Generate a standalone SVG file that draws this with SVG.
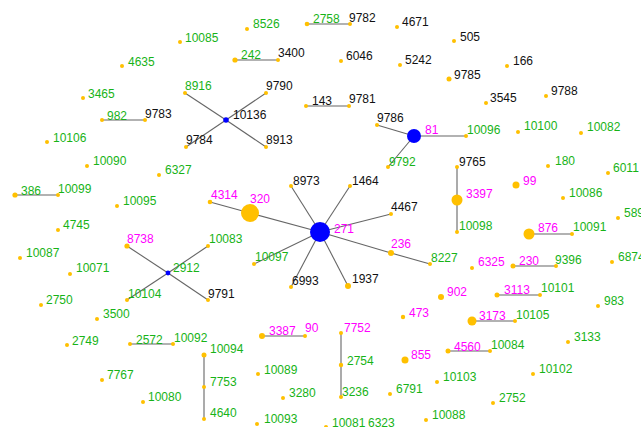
<svg xmlns="http://www.w3.org/2000/svg" width="641" height="427" viewBox="0 0 641 427">
<style>
text{font-family:"Liberation Sans",Arial,sans-serif;font-size:12px}
.g{fill:#17b317}.m{fill:#ff00ff}.k{fill:#111}
.d{fill:#ffc000}.h{fill:#0000ff}
.e line{stroke:#666;stroke-width:1.1}
</style>
<rect width="641" height="427" fill="#fff"/>
<g class="e" id="edges">
<line x1="102" y1="120" x2="145" y2="120"/>
<line x1="307" y1="24" x2="350" y2="24"/>
<line x1="235" y1="60" x2="278" y2="60"/>
<line x1="306" y1="106" x2="349" y2="106"/>
<line x1="226" y1="120" x2="185" y2="93"/>
<line x1="226" y1="120" x2="266" y2="93"/>
<line x1="226" y1="120" x2="186" y2="147"/>
<line x1="226" y1="120" x2="266" y2="147"/>
<line x1="414" y1="136" x2="377" y2="125"/>
<line x1="414" y1="136" x2="466" y2="136"/>
<line x1="414" y1="136" x2="388" y2="167"/>
<line x1="15" y1="195" x2="58" y2="195"/>
<line x1="320" y1="232" x2="291" y2="186"/>
<line x1="320" y1="232" x2="350" y2="186"/>
<line x1="320" y1="232" x2="391" y2="214"/>
<line x1="320" y1="232" x2="250" y2="213"/>
<line x1="250" y1="213" x2="210" y2="202"/>
<line x1="320" y1="232" x2="254" y2="264"/>
<line x1="320" y1="232" x2="291" y2="287"/>
<line x1="320" y1="232" x2="348" y2="286"/>
<line x1="320" y1="232" x2="391" y2="253"/>
<line x1="391" y1="253" x2="430" y2="264"/>
<line x1="457" y1="167" x2="457" y2="232"/>
<line x1="529" y1="234" x2="572" y2="234"/>
<line x1="513" y1="266" x2="556" y2="266"/>
<line x1="168" y1="273" x2="127" y2="246"/>
<line x1="168" y1="273" x2="208" y2="246"/>
<line x1="168" y1="273" x2="127" y2="300"/>
<line x1="168" y1="273" x2="208" y2="300"/>
<line x1="130" y1="344" x2="173" y2="344"/>
<line x1="204" y1="355" x2="204" y2="419"/>
<line x1="262" y1="336" x2="305" y2="336"/>
<line x1="341" y1="333" x2="341" y2="397"/>
<line x1="497" y1="295" x2="540" y2="295"/>
<line x1="472" y1="321" x2="515" y2="321"/>
<line x1="448" y1="351" x2="490" y2="351"/>
</g>
<g id="n10085"><circle class="d" cx="180" cy="42" r="2"/><text class="g" x="185" y="42">10085</text></g>
<g id="n4635"><circle class="d" cx="122" cy="66" r="2"/><text class="g" x="128" y="66">4635</text></g>
<g id="n3465"><circle class="d" cx="83" cy="98" r="2"/><text class="g" x="88" y="98">3465</text></g>
<g id="n982"><circle class="d" cx="102" cy="120" r="2"/><text class="g" x="107" y="120">982</text></g>
<g id="n9783"><circle class="d" cx="145" cy="120" r="2"/><text class="k" x="145" y="118">9783</text></g>
<g id="n10106"><circle class="d" cx="47" cy="142" r="2"/><text class="g" x="53" y="142">10106</text></g>
<g id="n8916"><circle class="d" cx="185" cy="93" r="2"/><text class="g" x="185" y="90">8916</text></g>
<g id="n8526"><circle class="d" cx="247" cy="29" r="2"/><text class="g" x="253" y="28">8526</text></g>
<g id="n2758"><circle class="d" cx="307" cy="24" r="2.3"/><text class="g" x="313" y="23">2758</text></g>
<g id="n9782"><circle class="d" cx="350" cy="24" r="2"/><text class="k" x="349" y="22">9782</text></g>
<g id="n4671"><circle class="d" cx="397" cy="27" r="2"/><text class="k" x="402" y="26">4671</text></g>
<g id="n242"><circle class="d" cx="235" cy="60" r="2.6"/><text class="g" x="241" y="59">242</text></g>
<g id="n3400"><circle class="d" cx="278" cy="60" r="2"/><text class="k" x="278" y="57">3400</text></g>
<g id="n6046"><circle class="d" cx="341" cy="61" r="2"/><text class="k" x="346" y="60">6046</text></g>
<g id="n5242"><circle class="d" cx="400" cy="65" r="2"/><text class="k" x="405" y="64">5242</text></g>
<g id="n505"><circle class="d" cx="454" cy="41" r="2"/><text class="k" x="460" y="41">505</text></g>
<g id="n166"><circle class="d" cx="507" cy="66" r="2"/><text class="k" x="513" y="65">166</text></g>
<g id="n9785"><circle class="d" cx="449" cy="79" r="2.5"/><text class="k" x="454" y="79">9785</text></g>
<g id="n3545"><circle class="d" cx="486" cy="103" r="2"/><text class="k" x="490" y="102">3545</text></g>
<g id="n9788"><circle class="d" cx="546" cy="96" r="2"/><text class="k" x="551" y="95">9788</text></g>
<g id="n9790"><circle class="d" cx="266" cy="93" r="2"/><text class="k" x="266" y="90">9790</text></g>
<g id="n10136"><circle class="h" cx="226" cy="120" r="2.8"/><text class="k" x="233" y="119">10136</text></g>
<g id="n9784"><circle class="d" cx="186" cy="147" r="2"/><text class="k" x="186" y="144">9784</text></g>
<g id="n8913"><circle class="d" cx="266" cy="147" r="2"/><text class="k" x="266" y="144">8913</text></g>
<g id="n143"><circle class="d" cx="306" cy="106" r="2"/><text class="k" x="312" y="105">143</text></g>
<g id="n9781"><circle class="d" cx="349" cy="106" r="2"/><text class="k" x="349" y="103">9781</text></g>
<g id="n9786"><circle class="d" cx="377" cy="125" r="2"/><text class="k" x="377" y="122">9786</text></g>
<g id="n81"><circle class="h" cx="414" cy="136" r="7"/><text class="m" x="425" y="134">81</text></g>
<g id="n10096"><circle class="d" cx="466" cy="136" r="2"/><text class="g" x="467" y="134">10096</text></g>
<g id="n10100"><circle class="d" cx="518" cy="132" r="2"/><text class="g" x="524" y="130">10100</text></g>
<g id="n10082"><circle class="d" cx="581" cy="133" r="2"/><text class="g" x="587" y="131">10082</text></g>
<g id="n9792"><circle class="d" cx="388" cy="167" r="2"/><text class="g" x="389" y="166">9792</text></g>
<g id="n10090"><circle class="d" cx="87" cy="166" r="2"/><text class="g" x="93" y="165">10090</text></g>
<g id="n6327"><circle class="d" cx="159" cy="175" r="2"/><text class="g" x="165" y="174">6327</text></g>
<g id="n386"><circle class="d" cx="15" cy="195" r="2.6"/><text class="g" x="21" y="195">386</text></g>
<g id="n10099"><circle class="d" cx="58" cy="195" r="2"/><text class="g" x="58" y="193">10099</text></g>
<g id="n10095"><circle class="d" cx="117" cy="206" r="2"/><text class="g" x="123" y="205">10095</text></g>
<g id="n4745"><circle class="d" cx="58" cy="230" r="2"/><text class="g" x="63" y="229">4745</text></g>
<g id="n10087"><circle class="d" cx="20" cy="258" r="2"/><text class="g" x="26" y="257">10087</text></g>
<g id="n10071"><circle class="d" cx="70" cy="274" r="2"/><text class="g" x="76" y="272">10071</text></g>
<g id="n8738"><circle class="d" cx="127" cy="246" r="2.6"/><text class="m" x="127" y="243">8738</text></g>
<g id="n10083"><circle class="d" cx="208" cy="246" r="2"/><text class="g" x="209" y="243">10083</text></g>
<g id="n2912"><circle class="h" cx="168" cy="273" r="2.4"/><text class="g" x="173" y="272">2912</text></g>
<g id="n10104"><circle class="d" cx="127" cy="300" r="2"/><text class="g" x="128" y="298">10104</text></g>
<g id="n9791"><circle class="d" cx="208" cy="300" r="2"/><text class="k" x="208" y="298">9791</text></g>
<g id="n4314"><circle class="d" cx="210" cy="202" r="2.3"/><text class="m" x="211" y="199">4314</text></g>
<g id="n320"><circle class="d" cx="250" cy="213" r="9"/><text class="m" x="250" y="203">320</text></g>
<g id="n8973"><circle class="d" cx="291" cy="186" r="2"/><text class="k" x="293" y="185">8973</text></g>
<g id="n1464"><circle class="d" cx="350" cy="186" r="2"/><text class="k" x="352" y="185">1464</text></g>
<g id="n4467"><circle class="d" cx="391" cy="214" r="2"/><text class="k" x="391" y="211">4467</text></g>
<g id="n271"><circle class="h" cx="320" cy="232" r="10"/><text class="m" x="334" y="233">271</text></g>
<g id="n10097"><circle class="d" cx="254" cy="264" r="2"/><text class="g" x="255" y="261">10097</text></g>
<g id="n6993"><circle class="d" cx="291" cy="287" r="2"/><text class="k" x="292" y="285">6993</text></g>
<g id="n1937"><circle class="d" cx="348" cy="286" r="3"/><text class="k" x="352" y="283">1937</text></g>
<g id="n236"><circle class="d" cx="391" cy="253" r="3"/><text class="m" x="391" y="248">236</text></g>
<g id="n8227"><circle class="d" cx="430" cy="264" r="2"/><text class="g" x="431" y="262">8227</text></g>
<g id="n9765"><circle class="d" cx="457" cy="167" r="2"/><text class="k" x="459" y="166">9765</text></g>
<g id="n3397"><circle class="d" cx="457" cy="200" r="5.5"/><text class="m" x="466" y="198">3397</text></g>
<g id="n10098"><circle class="d" cx="457" cy="232" r="2"/><text class="g" x="459" y="230">10098</text></g>
<g id="n180"><circle class="d" cx="548" cy="166" r="2"/><text class="g" x="555" y="165">180</text></g>
<g id="n99"><circle class="d" cx="516" cy="185" r="3.5"/><text class="m" x="523" y="185">99</text></g>
<g id="n6011"><circle class="d" cx="608" cy="173" r="2"/><text class="g" x="613" y="172">6011</text></g>
<g id="n10086"><circle class="d" cx="563" cy="198" r="2"/><text class="g" x="569" y="197">10086</text></g>
<g id="n589"><circle class="d" cx="618" cy="218" r="2"/><text class="g" x="624" y="217">589</text></g>
<g id="n876"><circle class="d" cx="529" cy="234" r="5.5"/><text class="m" x="538" y="232">876</text></g>
<g id="n10091"><circle class="d" cx="572" cy="234" r="2"/><text class="g" x="573" y="231">10091</text></g>
<g id="n6325"><circle class="d" cx="472" cy="268" r="2"/><text class="m" x="478" y="266">6325</text></g>
<g id="n230"><circle class="d" cx="513" cy="266" r="2.5"/><text class="m" x="519" y="265">230</text></g>
<g id="n9396"><circle class="d" cx="556" cy="266" r="2"/><text class="g" x="555" y="264">9396</text></g>
<g id="n6874"><circle class="d" cx="612" cy="262" r="2"/><text class="g" x="618" y="261">6874</text></g>
<g id="n2750"><circle class="d" cx="41" cy="305" r="2"/><text class="g" x="46" y="304">2750</text></g>
<g id="n3500"><circle class="d" cx="97" cy="319" r="2"/><text class="g" x="103" y="318">3500</text></g>
<g id="n2749"><circle class="d" cx="67" cy="345" r="2"/><text class="g" x="72" y="345">2749</text></g>
<g id="n2572"><circle class="d" cx="130" cy="344" r="2"/><text class="g" x="136" y="344">2572</text></g>
<g id="n10092"><circle class="d" cx="173" cy="344" r="2"/><text class="g" x="174" y="342">10092</text></g>
<g id="n10094"><circle class="d" cx="204" cy="355" r="2.5"/><text class="g" x="210" y="353">10094</text></g>
<g id="n7753"><circle class="d" cx="204" cy="387" r="2"/><text class="g" x="210" y="386">7753</text></g>
<g id="n4640"><circle class="d" cx="204" cy="419" r="2"/><text class="g" x="210" y="417">4640</text></g>
<g id="n7767"><circle class="d" cx="102" cy="380" r="2"/><text class="g" x="107" y="379">7767</text></g>
<g id="n10080"><circle class="d" cx="143" cy="402" r="2"/><text class="g" x="148" y="401">10080</text></g>
<g id="n3387"><circle class="d" cx="262" cy="336" r="3"/><text class="m" x="269" y="335">3387</text></g>
<g id="n90"><circle class="d" cx="305" cy="336" r="2"/><text class="m" x="305" y="332">90</text></g>
<g id="n7752"><circle class="d" cx="341" cy="333" r="2"/><text class="m" x="344" y="332">7752</text></g>
<g id="n2754"><circle class="d" cx="341" cy="365" r="2.2"/><text class="g" x="347" y="365">2754</text></g>
<g id="n3236"><circle class="d" cx="341" cy="397" r="2"/><text class="g" x="342" y="396">3236</text></g>
<g id="n473"><circle class="d" cx="403" cy="317" r="2.2"/><text class="m" x="409" y="317">473</text></g>
<g id="n855"><circle class="d" cx="405" cy="360" r="3.5"/><text class="m" x="411" y="359">855</text></g>
<g id="n10089"><circle class="d" cx="258" cy="374" r="2"/><text class="g" x="264" y="374">10089</text></g>
<g id="n3280"><circle class="d" cx="283" cy="398" r="2"/><text class="g" x="289" y="397">3280</text></g>
<g id="n6791"><circle class="d" cx="390" cy="394" r="2"/><text class="g" x="396" y="393">6791</text></g>
<g id="n10093"><circle class="d" cx="257" cy="424" r="2"/><text class="g" x="264" y="423">10093</text></g>
<g id="n10081"><circle class="d" cx="326" cy="427" r="2"/><text class="g" x="332" y="427">10081</text></g>
<g id="n6323"><text class="g" x="368" y="427">6323</text></g>
<g id="n10088"><circle class="d" cx="426" cy="420" r="2"/><text class="g" x="432" y="419">10088</text></g>
<g id="n902"><circle class="d" cx="441" cy="297" r="3"/><text class="m" x="447" y="296">902</text></g>
<g id="n3113"><circle class="d" cx="497" cy="295" r="2.5"/><text class="m" x="504" y="294">3113</text></g>
<g id="n10101"><circle class="d" cx="540" cy="295" r="2"/><text class="g" x="541" y="292">10101</text></g>
<g id="n983"><circle class="d" cx="598" cy="306" r="2"/><text class="g" x="604" y="305">983</text></g>
<g id="n3173"><circle class="d" cx="472" cy="321" r="4.5"/><text class="m" x="479" y="320">3173</text></g>
<g id="n10105"><circle class="d" cx="515" cy="321" r="2"/><text class="g" x="516" y="319">10105</text></g>
<g id="n3133"><circle class="d" cx="568" cy="342" r="2"/><text class="g" x="574" y="341">3133</text></g>
<g id="n4560"><circle class="d" cx="448" cy="351" r="2.5"/><text class="m" x="454" y="351">4560</text></g>
<g id="n10084"><circle class="d" cx="490" cy="351" r="2"/><text class="g" x="491" y="349">10084</text></g>
<g id="n10102"><circle class="d" cx="533" cy="374" r="2"/><text class="g" x="539" y="373">10102</text></g>
<g id="n10103"><circle class="d" cx="437" cy="382" r="2"/><text class="g" x="443" y="381">10103</text></g>
<g id="n2752"><circle class="d" cx="493" cy="403" r="2"/><text class="g" x="499" y="402">2752</text></g>
</svg>
